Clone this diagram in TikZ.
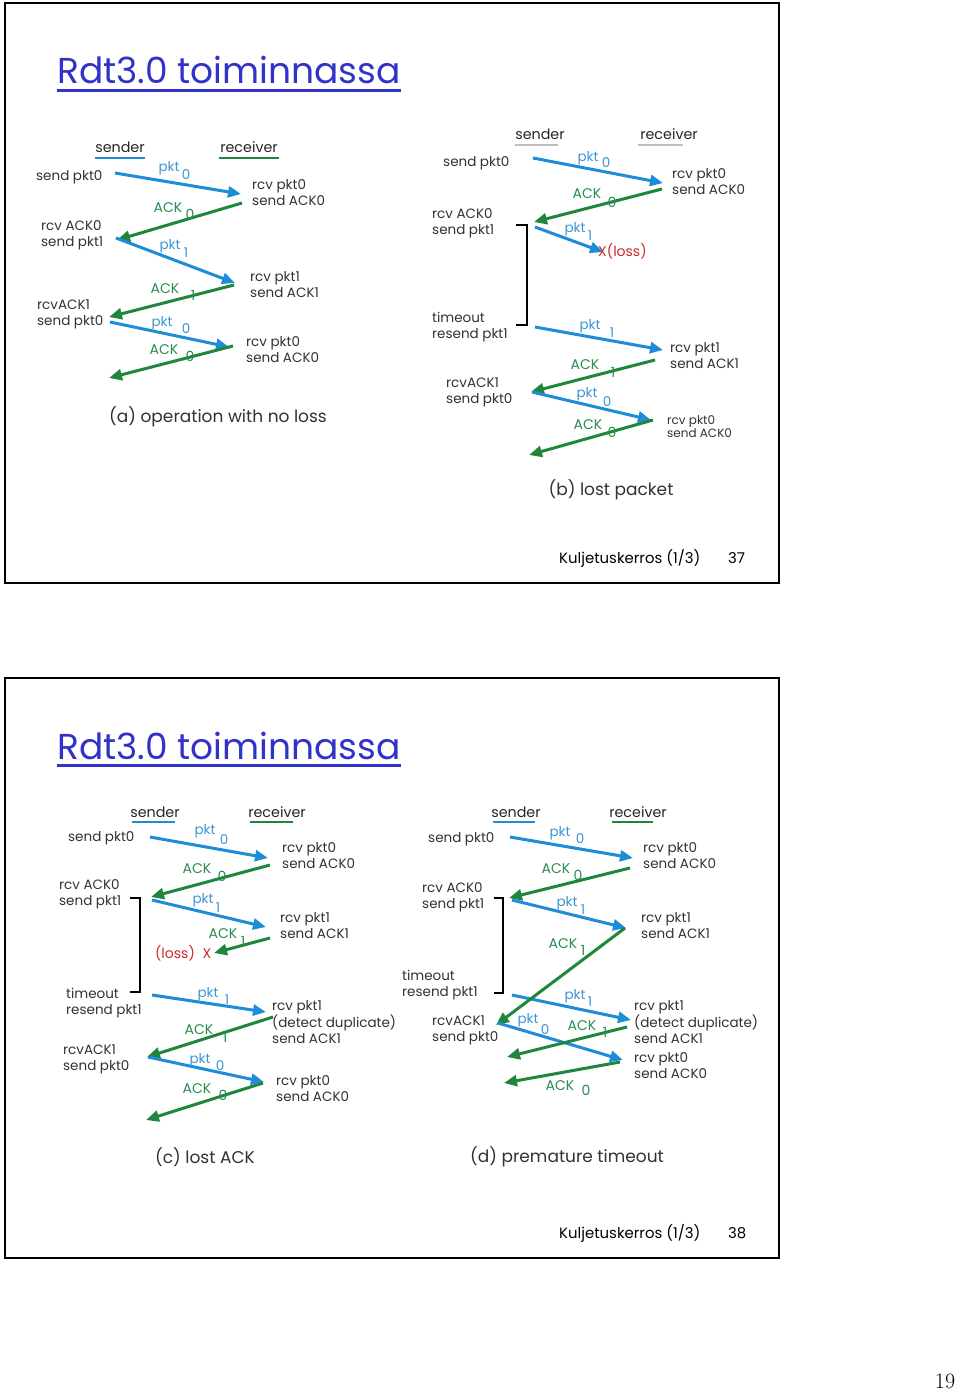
\documentclass[tikz,border=0pt]{standalone}
\usepackage{fontspec}
\usetikzlibrary{arrows.meta}
\newfontfamily\diagfont{Poppins}
\newfontfamily\titlefont{Poppins}
\definecolor{pktblue}{RGB}{30,140,215}
\definecolor{ackgreen}{RGB}{30,135,60}
\definecolor{pktlblue}{RGB}{60,150,210}
\definecolor{acklgreen}{RGB}{40,140,80}
\definecolor{txtgray}{RGB}{50,50,50}
\definecolor{titleblue}{RGB}{50,50,200}
\definecolor{lossred}{RGB}{210,40,40}
\tikzset{
  evtxt/.style={font=\diagfont\fontsize{13.5}{16}\selectfont, text=txtgray, anchor=west, align=left, inner sep=0pt},
  smalltxt/.style={font=\diagfont\fontsize{12}{13}\selectfont, text=txtgray, anchor=west, align=left, inner sep=0pt},
  hdtxt/.style={font=\diagfont\fontsize{14.3}{15}\selectfont, text=black!85, inner sep=0pt},
  pktlbl/.style={font=\diagfont\fontsize{13.5}{15}\selectfont, text=pktlblue, inner sep=0pt},
  acklbl/.style={font=\diagfont\fontsize{14}{15}\selectfont, text=acklgreen, inner sep=0pt},
  losstxt/.style={font=\diagfont\fontsize{14}{15}\selectfont, text=lossred, inner sep=0pt},
  captxt/.style={font=\diagfont\fontsize{17}{18}\selectfont, text=txtgray, inner sep=0pt},
  pktarrow/.style={draw=pktblue, line width=3pt, -{Triangle[length=13pt,width=11pt]}},
  ackarrow/.style={draw=ackgreen, line width=3pt, -{Triangle[length=13pt,width=11pt]}},
  bracketline/.style={draw=black, line width=2.5pt},
  sndline/.style={draw=pktblue, line width=2.5pt},
  rcvline/.style={draw=ackgreen, line width=2.5pt},
  grayline/.style={draw=black!25, line width=1.5pt},
  frameline/.style={draw=black, line width=2.5pt},
  titletxt/.style={font=\titlefont\fontsize{36}{40}\selectfont, text=titleblue, inner sep=0pt, anchor=base west},
  foottxt/.style={font=\diagfont\fontsize{14.9}{15}\selectfont, text=black, inner sep=0pt, anchor=base west},
}
\begin{document}
\begin{tikzpicture}[x=1pt,y=-1pt]
\useasboundingbox (0,0) rectangle (960,1394);
\fill[white] (0,0) rectangle (960,1394);

% ---------- slide frames, titles, footers ----------
\draw[frameline] (5,3) rectangle (779,583);
\draw[frameline] (5,678) rectangle (779,1258);
\node[titletxt] (t1) at (57,84) {Rdt3.0 toiminnassa};
\draw[titleblue, line width=2.5pt] ([yshift=-6pt]t1.south west) -- ([yshift=-6pt]t1.south east);
\node[titletxt] (t2) at (57,759) {Rdt3.0 toiminnassa};
\draw[titleblue, line width=2.5pt] ([yshift=-6pt]t2.south west) -- ([yshift=-6pt]t2.south east);
\node[foottxt] (f1) at (559,563) {Kuljetuskerros (1/3)};
\node[foottxt] (f1n) at (728,563) {37};
\node[foottxt] (f2) at (559,1238) {Kuljetuskerros (1/3)};
\node[foottxt] (f2n) at (728,1238) {38};
\node[font=\fontsize{22}{24}\selectfont, inner sep=0pt] (pg) at (945,1381) {19};

% =================== (a) ===================
\node[hdtxt] (a-snd) at (120,147) {sender};
\node[hdtxt] (a-rcv) at (249,147) {receiver};
\draw[sndline] (95,158) -- (145,158);
\draw[rcvline] (219,158) -- (279,158);
\node[evtxt] (a-e1) at (36,177) {send pkt0};
\node[evtxt] (a-e2) at (41,235) {rcv ACK0\\send pkt1};
\node[evtxt] (a-e3) at (37,314) {rcvACK1\\send pkt0};
\node[evtxt] (a-r1) at (252,193) {rcv pkt0\\send ACK0};
\node[evtxt] (a-r2) at (250,285) {rcv pkt1\\send ACK1};
\node[evtxt] (a-r3) at (246,350) {rcv pkt0\\send ACK0};
\coordinate (a-p1s) at (115,173); \coordinate (a-p1e) at (241,194);
\coordinate (a-a1s) at (242,203); \coordinate (a-a1e) at (117,240);
\coordinate (a-p2s) at (116,238); \coordinate (a-p2e) at (235,283);
\coordinate (a-a2s) at (234,285); \coordinate (a-a2e) at (109,317);
\coordinate (a-p3s) at (110,322); \coordinate (a-p3e) at (229,347);
\coordinate (a-a3s) at (233,346); \coordinate (a-a3e) at (109,378);
\draw[pktarrow] (a-p1s) -- (a-p1e);
\draw[ackarrow] (a-a1s) -- (a-a1e);
\draw[pktarrow] (a-p2s) -- (a-p2e);
\draw[ackarrow] (a-a2s) -- (a-a2e);
\draw[pktarrow] (a-p3s) -- (a-p3e);
\draw[ackarrow] (a-a3s) -- (a-a3e);
\node[pktlbl] (a-l1) at (169,168) {pkt}; \node[pktlbl] (a-l1d) at (186,175) {0};
\node[acklbl] (a-l2) at (168,208) {ACK}; \node[acklbl] (a-l2d) at (190,214) {0};
\node[pktlbl] (a-l3) at (170,246) {pkt}; \node[pktlbl] (a-l3d) at (186,253) {1};
\node[acklbl] (a-l4) at (165,289) {ACK}; \node[acklbl] (a-l4d) at (193,295) {1};
\node[pktlbl] (a-l5) at (162,323) {pkt}; \node[pktlbl] (a-l5d) at (186,329) {0};
\node[acklbl] (a-l6) at (164,350) {ACK}; \node[acklbl] (a-l6d) at (190,356) {0};
\node[captxt] (a-cap) at (218,417) {(a) operation with no loss};

% =================== (b) ===================
\node[hdtxt] (b-snd) at (540,134) {sender};
\node[hdtxt] (b-rcv) at (669,134) {receiver};
\draw[grayline] (515,145) -- (558,145);
\draw[grayline] (638,145) -- (683,145);
\node[evtxt] (b-e1) at (443,163) {send pkt0};
\node[evtxt] (b-e2) at (432,223) {rcv ACK0\\send pkt1};
\node[evtxt] (b-e3) at (432,327) {timeout\\resend pkt1};
\node[evtxt] (b-e4) at (446,392) {rcvACK1\\send pkt0};
\node[evtxt] (b-r1) at (672,182) {rcv pkt0\\send ACK0};
\node[evtxt] (b-r2) at (670,356) {rcv pkt1\\send ACK1};
\node[smalltxt] (b-r3) at (667,427) {rcv pkt0\\send ACK0};
\coordinate (b-p1s) at (533,158); \coordinate (b-p1e) at (663,183);
\coordinate (b-a1s) at (662,189); \coordinate (b-a1e) at (534,222);
\coordinate (b-p2s) at (535,227); \coordinate (b-p2e) at (603,252);
\coordinate (b-p3s) at (535,327); \coordinate (b-p3e) at (663,350);
\coordinate (b-a3s) at (655,360); \coordinate (b-a3e) at (531,392);
\coordinate (b-p4s) at (532,392); \coordinate (b-p4e) at (651,420);
\coordinate (b-a4s) at (653,420); \coordinate (b-a4e) at (529,455);
\draw[pktarrow] (b-p1s) -- (b-p1e);
\draw[ackarrow] (b-a1s) -- (b-a1e);
\draw[pktarrow] (b-p2s) -- (b-p2e);
\draw[pktarrow] (b-p3s) -- (b-p3e);
\draw[ackarrow] (b-a3s) -- (b-a3e);
\draw[pktarrow] (b-p4s) -- (b-p4e);
\draw[ackarrow] (b-a4s) -- (b-a4e);
\node[losstxt, anchor=west] (b-loss) at (598,251) {X(loss)};
\coordinate (b-bt1) at (516,225); \coordinate (b-bt2) at (527,225);
\coordinate (b-bb2) at (527,325); \coordinate (b-bb1) at (516,325);
\draw[bracketline] (b-bt1) -- (b-bt2) -- (b-bb2) -- (b-bb1);
\node[pktlbl] (b-l1) at (588,158) {pkt}; \node[pktlbl] (b-l1d) at (606,163) {0};
\node[acklbl] (b-l2) at (587,194) {ACK}; \node[acklbl] (b-l2d) at (612,202) {0};
\node[pktlbl] (b-l3) at (575,229) {pkt}; \node[pktlbl] (b-l3d) at (590,236) {1};
\node[pktlbl] (b-l4) at (590,326) {pkt}; \node[pktlbl] (b-l4d) at (612,333) {1};
\node[acklbl] (b-l5) at (585,365) {ACK}; \node[acklbl] (b-l5d) at (613,372) {1};
\node[pktlbl] (b-l6) at (587,394) {pkt}; \node[pktlbl] (b-l6d) at (607,402) {0};
\node[acklbl] (b-l7) at (588,425) {ACK}; \node[acklbl] (b-l7d) at (612,432) {0};
\node[captxt] (b-cap) at (611,490) {(b) lost packet};

% =================== (c) ===================
\node[hdtxt] (c-snd) at (155,812) {sender};
\node[hdtxt] (c-rcv) at (277,812) {receiver};
\draw[sndline] (132,822) -- (175,822);
\draw[rcvline] (250,822) -- (293,822);
\node[evtxt] (c-e1) at (68,838) {send pkt0};
\node[evtxt] (c-e2) at (59,894) {rcv ACK0\\send pkt1};
\node[evtxt] (c-e3) at (66,1003) {timeout\\resend pkt1};
\node[evtxt] (c-e4) at (63,1059) {rcvACK1\\send pkt0};
\node[evtxt] (c-r1) at (282,856) {rcv pkt0\\send ACK0};
\node[evtxt] (c-r2) at (280,926) {rcv pkt1\\send ACK1};
\node[evtxt] (c-r3) at (272,1022) {rcv pkt1\\(detect duplicate)\\send ACK1};
\node[evtxt] (c-r4) at (276,1089) {rcv pkt0\\send ACK0};
\coordinate (c-p1s) at (150,837); \coordinate (c-p1e) at (268,858);
\coordinate (c-a1s) at (270,865); \coordinate (c-a1e) at (151,897);
\coordinate (c-p2s) at (152,900); \coordinate (c-p2e) at (266,927);
\coordinate (c-a2s) at (270,938); \coordinate (c-a2e) at (214,953);
\coordinate (c-p3s) at (152,995); \coordinate (c-p3e) at (266,1012);
\coordinate (c-a3s) at (273,1017); \coordinate (c-a3e) at (147,1057);
\coordinate (c-p4s) at (148,1057); \coordinate (c-p4e) at (264,1082);
\coordinate (c-a4s) at (263,1083); \coordinate (c-a4e) at (146,1120);
\draw[pktarrow] (c-p1s) -- (c-p1e);
\draw[ackarrow] (c-a1s) -- (c-a1e);
\draw[pktarrow] (c-p2s) -- (c-p2e);
\draw[ackarrow] (c-a2s) -- (c-a2e);
\draw[pktarrow] (c-p3s) -- (c-p3e);
\draw[ackarrow] (c-a3s) -- (c-a3e);
\draw[pktarrow] (c-p4s) -- (c-p4e);
\draw[ackarrow] (c-a4s) -- (c-a4e);
\node[losstxt] (c-loss) at (175,953) {(loss)};
\node[losstxt] (c-x) at (207,954) {X};
\coordinate (c-bt1) at (130,898); \coordinate (c-bt2) at (140,898);
\coordinate (c-bb2) at (140,992); \coordinate (c-bb1) at (130,992);
\draw[bracketline] (c-bt1) -- (c-bt2) -- (c-bb2) -- (c-bb1);
\node[pktlbl] (c-l1) at (205,831) {pkt}; \node[pktlbl] (c-l1d) at (224,840) {0};
\node[acklbl] (c-l2) at (197,869) {ACK}; \node[acklbl] (c-l2d) at (222,876) {0};
\node[pktlbl] (c-l3) at (203,900) {pkt}; \node[pktlbl] (c-l3d) at (218,908) {1};
\node[acklbl] (c-l4) at (223,934) {ACK}; \node[acklbl] (c-l4d) at (243,941) {1};
\node[pktlbl] (c-l5) at (208,994) {pkt}; \node[pktlbl] (c-l5d) at (227,1000) {1};
\node[acklbl] (c-l6) at (199,1030) {ACK}; \node[acklbl] (c-l6d) at (225,1037) {1};
\node[pktlbl] (c-l7) at (200,1060) {pkt}; \node[pktlbl] (c-l7d) at (220,1066) {0};
\node[acklbl] (c-l8) at (197,1089) {ACK}; \node[acklbl] (c-l8d) at (223,1095) {0};
\node[captxt] (c-cap) at (205,1157) {(c) lost ACK};

% =================== (d) ===================
\node[hdtxt] (d-snd) at (516,812) {sender};
\node[hdtxt] (d-rcv) at (638,812) {receiver};
\draw[sndline] (493,822) -- (535,822);
\draw[rcvline] (612,822) -- (653,822);
\node[evtxt] (d-e1) at (428,839) {send pkt0};
\node[evtxt] (d-e2) at (422,897) {rcv ACK0\\send pkt1};
\node[evtxt] (d-e3) at (402,985) {timeout\\resend pkt1};
\node[evtxt] (d-e4) at (432,1030) {rcvACK1\\send pkt0};
\node[evtxt] (d-r1) at (643,856) {rcv pkt0\\send ACK0};
\node[evtxt] (d-r2) at (641,926) {rcv pkt1\\send ACK1};
\node[evtxt] (d-r3) at (634,1022) {rcv pkt1\\(detect duplicate)\\send ACK1};
\node[evtxt] (d-r4) at (634,1066) {rcv pkt0\\send ACK0};
\coordinate (d-p1s) at (510,837); \coordinate (d-p1e) at (633,858);
\coordinate (d-a1s) at (630,868); \coordinate (d-a1e) at (509,898);
\coordinate (d-p2s) at (512,900); \coordinate (d-p2e) at (626,928);
\coordinate (d-a2s) at (625,928); \coordinate (d-a2e) at (496,1025);
\coordinate (d-p3s) at (512,995); \coordinate (d-p3e) at (631,1020);
\coordinate (d-p4s) at (498,1023); \coordinate (d-p4e) at (623,1060);
\coordinate (d-a3s) at (627,1027); \coordinate (d-a3e) at (507,1057);
\coordinate (d-a4s) at (620,1062); \coordinate (d-a4e) at (504,1083);
\draw[pktarrow] (d-p1s) -- (d-p1e);
\draw[ackarrow] (d-a1s) -- (d-a1e);
\draw[pktarrow] (d-p2s) -- (d-p2e);
\draw[pktarrow] (d-p3s) -- (d-p3e);
\draw[ackarrow] (d-a2s) -- (d-a2e);
\draw[pktarrow] (d-p4s) -- (d-p4e);
\draw[ackarrow] (d-a3s) -- (d-a3e);
\draw[ackarrow] (d-a4s) -- (d-a4e);
\coordinate (d-bt1) at (494,898); \coordinate (d-bt2) at (503,898);
\coordinate (d-bb2) at (503,993); \coordinate (d-bb1) at (494,993);
\draw[bracketline] (d-bt1) -- (d-bt2) -- (d-bb2) -- (d-bb1);
\node[pktlbl] (d-l1) at (560,833) {pkt}; \node[pktlbl] (d-l1d) at (580,839) {0};
\node[acklbl] (d-l2) at (556,869) {ACK}; \node[acklbl] (d-l2d) at (578,875) {0};
\node[pktlbl] (d-l3) at (567,903) {pkt}; \node[pktlbl] (d-l3d) at (583,910) {1};
\node[acklbl] (d-l4) at (563,944) {ACK}; \node[acklbl] (d-l4d) at (583,950) {1};
\node[pktlbl] (d-l5) at (575,996) {pkt}; \node[pktlbl] (d-l5d) at (590,1002) {1};
\node[pktlbl] (d-l6) at (528,1020) {pkt}; \node[pktlbl] (d-l6d) at (545,1030) {0};
\node[acklbl] (d-l7) at (582,1026) {ACK}; \node[acklbl] (d-l7d) at (605,1032) {1};
\node[acklbl] (d-l8) at (560,1086) {ACK}; \node[acklbl] (d-l8d) at (586,1090) {0};
\node[captxt] (d-cap) at (567,1157) {(d) premature timeout};
\end{tikzpicture}
\end{document}
